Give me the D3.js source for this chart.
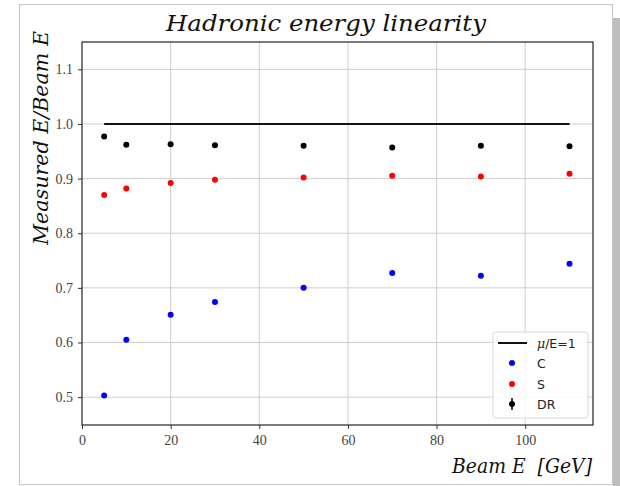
<!DOCTYPE html>
<html>
<head>
<meta charset="utf-8">
<script src="https://cdn.jsdelivr.net/npm/d3@7"></script>
<style>
  body { margin: 0; background: #fff; }
  svg { display: block; }
</style>
</head>
<body>
<div id="chart"></div>
<script>
// beam energies (GeV)
const beamE = [5, 10, 20, 30, 50, 70, 90, 110];
// measured E / beam E
const cValues = [0.503, 0.605, 0.651, 0.674, 0.700, 0.727, 0.722, 0.744];
const sValues = [0.870, 0.882, 0.892, 0.898, 0.902, 0.905, 0.904, 0.909];
const drValues = [0.977, 0.962, 0.963, 0.961, 0.960, 0.957, 0.960, 0.959];
const refLine = [[5, 1.0], [110, 1.0]];

const xTicks = [0, 20, 40, 60, 80, 100];
const yTicks = [0.5, 0.6, 0.7, 0.8, 0.9, 1.0, 1.1];

const w = 620;
const h = 486;
const plot = { left: 82, right: 593, top: 42, bottom: 425 };

const svg = d3.select("#chart").append("svg").attr("width", w).attr("height", h);

// page panel
svg.append("rect").attr("x", 613).attr("y", 18).attr("width", 7).attr("height", 468).attr("fill", "#bdbdbd");
svg.append("rect").attr("x", 19.5).attr("y", 4.5).attr("width", 593).attr("height", 480)
  .attr("fill", "#fff").attr("stroke", "#c6c6c6");

const xScale = d3.scaleLinear().domain([0, 115.3]).range([plot.left, plot.right]);
const yScale = d3.scaleLinear().domain([0.449, 1.15]).range([plot.bottom, plot.top]);

// grid
svg.append("g").selectAll("line").data(xTicks.slice(1)).enter().append("line")
  .attr("x1", d => xScale(d)).attr("x2", d => xScale(d))
  .attr("y1", plot.top).attr("y2", plot.bottom)
  .attr("stroke", "#cfcfcf").attr("stroke-width", 1);
svg.append("g").selectAll("line").data(yTicks).enter().append("line")
  .attr("x1", plot.left).attr("x2", plot.right)
  .attr("y1", d => yScale(d)).attr("y2", d => yScale(d))
  .attr("stroke", "#cfcfcf").attr("stroke-width", 1);

// axes
const xAxis = d3.axisBottom(xScale).tickValues(xTicks).tickFormat(d3.format("d")).tickSize(4).tickPadding(6);
const yAxis = d3.axisLeft(yScale).tickValues(yTicks).tickFormat(d3.format(".1f")).tickSize(4).tickPadding(5);

const gx = svg.append("g").attr("transform", `translate(0,${plot.bottom})`).call(xAxis);
const gy = svg.append("g").attr("transform", `translate(${plot.left},0)`).call(yAxis);
[gx, gy].forEach(g => {
  g.select(".domain").remove();
  g.selectAll("line").attr("stroke", "#333");
  g.selectAll("text").attr("fill", "#444").style("font-family", "'Liberation Serif', serif").style("font-size", "14px");
});

svg.append("rect").attr("x", plot.left).attr("y", plot.top)
  .attr("width", plot.right - plot.left).attr("height", plot.bottom - plot.top)
  .attr("fill", "none").attr("stroke", "#333").attr("stroke-width", 1.3);

// reference line
svg.append("path").datum(refLine)
  .attr("d", d3.line().x(d => xScale(d[0])).y(d => yScale(d[1])))
  .attr("stroke", "#111").attr("stroke-width", 2).attr("fill", "none");

function dots(values, colour) {
  svg.append("g").selectAll("circle").data(values).enter().append("circle")
    .attr("cx", (d, i) => xScale(beamE[i]))
    .attr("cy", d => yScale(d))
    .attr("r", 3)
    .attr("fill", colour);
}
dots(cValues, "#0000ff");
dots(sValues, "#ff0000");
dots(drValues, "#000000");

// legend
const lg = svg.append("g").attr("transform", "translate(493,332)");
lg.append("rect").attr("width", 95).attr("height", 86).attr("rx", 3)
  .attr("fill", "#fff").attr("fill-opacity", 0.85).attr("stroke", "#d8d8d8");
const lfont = "'DejaVu Sans', sans-serif";
lg.append("line").attr("x1", 5).attr("x2", 34).attr("y1", 11).attr("y2", 11).attr("stroke", "#111").attr("stroke-width", 2);
const t0 = lg.append("text").attr("x", 44).attr("y", 15.5).style("font-family", lfont).style("font-size", "12.5px").attr("fill", "#222");
t0.append("tspan").text("μ").style("font-style", "italic").style("font-family", "'DejaVu Serif', serif");
t0.append("tspan").text("/E=1");
const entries = [["C", "#0000ff", 31], ["S", "#ff0000", 52], ["DR", "#000000", 72]];
entries.forEach(([label, col, y]) => {
  lg.append("circle").attr("cx", 19).attr("cy", y).attr("r", 3).attr("fill", col);
  lg.append("text").attr("x", 44).attr("y", y + 4.5).text(label)
    .style("font-family", lfont).style("font-size", "12.5px").attr("fill", "#222");
});
lg.append("line").attr("x1", 19).attr("x2", 19).attr("y1", 66).attr("y2", 78).attr("stroke", "#000").attr("stroke-width", 1.5);

// titles
const serifItalic = "'DejaVu Serif', 'Liberation Serif', serif";
svg.append("text").attr("x", 326).attr("y", 31).attr("text-anchor", "middle")
  .text("Hadronic energy linearity")
  .attr("textLength", 320).attr("lengthAdjust", "spacingAndGlyphs")
  .style("font-family", serifItalic).style("font-style", "italic").style("font-size", "23px").attr("fill", "#111");
svg.append("text").attr("transform", "translate(48,138) rotate(-90)").attr("text-anchor", "middle")
  .text("Measured E/Beam E")
  .attr("textLength", 214).attr("lengthAdjust", "spacingAndGlyphs")
  .style("font-family", serifItalic).style("font-style", "italic").style("font-size", "21px").attr("fill", "#111");
svg.append("text").attr("x", 592).attr("y", 473).attr("text-anchor", "end")
  .text("Beam E  [GeV]").attr("xml:space", "preserve")
  .attr("textLength", 140).attr("lengthAdjust", "spacingAndGlyphs")
  .style("font-family", serifItalic).style("font-style", "italic").style("font-size", "20px").attr("fill", "#111")
  .style("white-space", "pre");
</script>
</body>
</html>
